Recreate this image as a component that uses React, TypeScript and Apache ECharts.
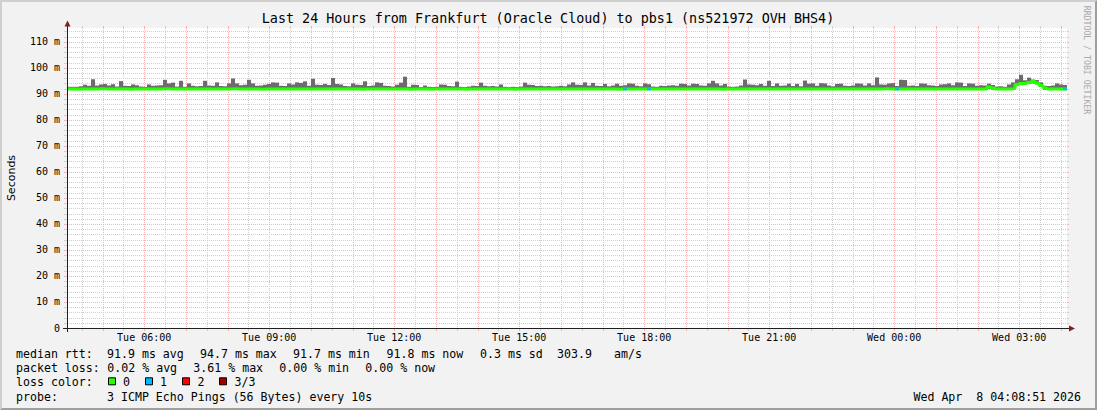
import React, { useEffect, useRef } from "react";
import * as echarts from "echarts";

const MONO = '"DejaVu Sans Mono", monospace';
const SANS = '"DejaVu Sans", sans-serif';

const title = "Last 24 Hours from Frankfurt (Oracle Cloud) to pbs1 (ns521972 OVH BHS4)";
const watermark = "RRDTOOL / TOBI OETIKER";
const yAxisTitle = "Seconds";
const dateStamp = "Wed Apr  8 04:08:51 2026";

// time axis: hours since Tue 00:00, window starts Tue 04:08:51
const startHour = 4 + 8 / 60 + 51 / 3600;
const spanHours = 24;

const xLabelHours = [6, 9, 12, 15, 18, 21, 24, 27];
const xLabels = ["Tue 06:00", "Tue 09:00", "Tue 12:00", "Tue 15:00", "Tue 18:00", "Tue 21:00", "Wed 00:00", "Wed 03:00"];
const gridHours = [5, 6, 7, 8, 9, 10, 11, 12, 13, 14, 15, 16, 17, 18, 19, 20, 21, 22, 23, 24, 25, 26, 27, 28];
const gridHalfHours = [4.5, 5.5, 6.5, 7.5, 8.5, 9.5, 10.5, 11.5, 12.5, 13.5, 14.5, 15.5, 16.5, 17.5, 18.5, 19.5, 20.5, 21.5, 22.5, 23.5, 24.5, 25.5, 26.5, 27.5];
const yMajorTicks = [10, 20, 30, 40, 50, 60, 70, 80, 90, 100, 110];
const yMinorTicks = [2, 4, 6, 8, 12, 14, 16, 18, 22, 24, 26, 28, 32, 34, 36, 38, 42, 44, 46, 48, 52, 54, 56, 58, 62, 64, 66, 68, 72, 74, 76, 78, 82, 84, 86, 88, 92, 94, 96, 98, 102, 104, 106, 108, 112, 114];
const yMax = 115.3;

// smoke (ms): upper edge of the ping spread per step
const smokeTop = [
  92.7, 92.7, 92.7, 92.9, 93.5, 93.1, 95.6, 93.2, 93.6, 93.8,
  93.2, 93.7, 92.8, 94.9, 93.1, 93.0, 93.6, 93.3, 92.8, 92.7,
  93.6, 93.1, 93.2, 93.3, 95.4, 94.0, 94.3, 92.8, 95.0, 92.7,
  94.0, 93.1, 92.9, 93.0, 95.0, 93.2, 93.1, 94.4, 93.0, 92.9,
  94.0, 95.9, 94.0, 93.3, 93.5, 95.4, 94.0, 93.1, 93.2, 93.5,
  93.8, 94.4, 94.3, 93.1, 93.0, 94.0, 93.6, 94.4, 94.2, 94.8,
  93.1, 95.8, 93.5, 93.4, 93.8, 93.4, 96.1, 93.8, 93.6, 93.0,
  92.9, 94.0, 93.5, 93.4, 94.8, 93.0, 93.2, 94.4, 94.2, 93.1,
  93.0, 92.8, 93.5, 94.3, 96.6, 92.7, 93.5, 93.4, 92.6, 93.2,
  92.7, 92.6, 92.7, 93.6, 93.5, 93.0, 92.9, 94.7, 92.7, 92.6,
  92.8, 93.1, 93.0, 94.3, 93.1, 92.9, 93.0, 92.8, 93.6, 92.7,
  92.6, 92.7, 92.6, 92.8, 94.3, 93.5, 93.4, 93.0, 93.1, 92.9,
  93.0, 92.8, 92.9, 93.1, 92.9, 93.6, 94.4, 93.5, 93.4, 94.4,
  93.2, 94.2, 93.1, 93.0, 93.8, 92.9, 93.2, 93.9, 93.1, 93.3,
  94.0, 93.9, 93.1, 92.9, 94.0, 93.7, 92.8, 92.7, 93.1, 93.0,
  93.2, 93.3, 93.1, 93.9, 93.8, 93.2, 93.9, 93.8, 93.2, 93.1,
  94.0, 95.0, 94.0, 93.2, 93.8, 92.8, 92.7, 92.8, 93.2, 95.5,
  93.6, 93.5, 93.3, 93.8, 93.1, 95.0, 93.0, 94.0, 93.1, 93.2,
  93.9, 93.0, 93.8, 92.9, 95.1, 93.9, 94.0, 93.1, 94.1, 94.0,
  93.2, 92.9, 93.8, 93.9, 93.1, 93.0, 93.2, 94.0, 93.9, 93.2,
  94.0, 93.3, 96.3, 93.6, 93.5, 94.0, 94.1, 93.0, 95.4, 95.3,
  93.1, 93.2, 93.0, 94.0, 93.9, 93.3, 93.2, 93.0, 93.6, 93.7,
  94.0, 93.3, 94.4, 94.3, 93.0, 94.0, 93.9, 93.1, 93.3, 93.2,
  93.9, 93.4, 92.8, 92.9, 92.7, 93.6, 94.4, 95.6, 97.3, 95.2,
  96.2, 95.5, 95.3, 94.4, 93.1, 93.0, 93.2, 94.0, 93.6, 93.4,
];

// smoke (ms): lower edge of the ping spread per step
const smokeMin = [
  91.6, 91.6, 91.6, 91.6, 91.6, 91.6, 91.6, 91.6, 91.6, 91.6,
  91.6, 91.6, 91.6, 91.6, 91.6, 91.6, 91.6, 91.6, 91.6, 91.6,
  91.6, 91.6, 91.6, 91.6, 91.6, 91.6, 91.6, 91.6, 91.6, 91.6,
  91.6, 91.6, 91.6, 91.6, 91.6, 91.6, 91.6, 91.6, 91.6, 91.6,
  91.6, 91.6, 91.6, 91.6, 91.6, 91.6, 91.6, 91.6, 91.6, 91.6,
  91.6, 91.6, 91.6, 91.6, 91.6, 91.6, 91.6, 91.6, 91.6, 91.6,
  91.6, 91.6, 91.6, 91.6, 91.6, 91.6, 91.6, 91.6, 91.6, 91.6,
  91.6, 91.6, 91.6, 91.6, 91.6, 91.6, 91.6, 91.6, 91.6, 91.6,
  91.6, 91.6, 91.6, 91.6, 91.6, 91.6, 91.6, 91.6, 91.6, 91.6,
  91.6, 91.6, 91.6, 91.6, 91.6, 91.6, 91.6, 91.6, 91.6, 91.6,
  91.6, 91.6, 91.6, 91.6, 91.6, 91.6, 91.6, 91.6, 91.6, 91.6,
  91.6, 91.6, 91.6, 91.6, 91.6, 91.6, 91.6, 91.6, 91.6, 91.6,
  91.6, 91.6, 91.6, 91.6, 91.6, 91.6, 91.6, 91.6, 91.6, 91.6,
  91.6, 91.6, 91.6, 91.6, 91.6, 91.6, 91.6, 91.6, 91.6, 91.6,
  91.6, 91.6, 91.6, 91.6, 91.6, 91.6, 91.6, 91.6, 91.6, 91.6,
  91.6, 91.6, 91.6, 91.6, 91.6, 91.6, 91.6, 91.6, 91.6, 91.6,
  91.6, 91.6, 91.6, 91.6, 91.6, 91.6, 91.6, 91.6, 91.6, 91.6,
  91.6, 91.6, 91.6, 91.6, 91.6, 91.6, 91.6, 91.6, 91.6, 91.6,
  91.6, 91.6, 91.6, 91.6, 91.6, 91.6, 91.6, 91.6, 91.6, 91.6,
  91.6, 91.6, 91.6, 91.6, 91.6, 91.6, 91.6, 91.6, 91.6, 91.6,
  91.6, 91.6, 91.6, 91.6, 91.6, 91.6, 91.6, 91.6, 91.6, 91.6,
  91.6, 91.6, 91.6, 91.6, 91.6, 91.6, 91.6, 91.6, 91.6, 91.6,
  91.6, 91.6, 91.6, 91.6, 91.6, 91.6, 91.6, 91.6, 91.6, 91.6,
  91.9, 91.6, 91.6, 91.6, 91.6, 91.6, 91.6, 93.0, 93.3, 93.5,
  93.7, 94.0, 93.6, 92.6, 91.6, 91.6, 91.6, 91.6, 91.6, 91.6,
];

// median rtt (ms) per step
const median = [
  91.9, 91.9, 91.8, 91.9, 91.9, 91.9, 91.9, 91.9, 92.0, 91.9,
  91.9, 91.9, 91.9, 91.9, 91.9, 91.8, 91.9, 91.9, 91.9, 91.9,
  91.9, 91.9, 91.9, 91.9, 92.0, 91.9, 91.9, 91.9, 91.9, 91.9,
  91.9, 91.9, 91.9, 91.9, 91.9, 91.9, 91.9, 91.9, 91.9, 91.9,
  91.9, 92.0, 91.9, 91.9, 91.9, 91.9, 91.9, 91.9, 91.8, 91.9,
  91.9, 91.9, 91.9, 91.9, 91.9, 91.9, 91.9, 91.9, 91.9, 91.9,
  91.9, 91.9, 91.9, 91.9, 91.9, 91.9, 91.9, 91.9, 91.9, 91.9,
  91.9, 91.9, 91.9, 91.8, 91.9, 91.9, 91.9, 91.9, 91.9, 91.9,
  91.9, 91.9, 91.9, 91.9, 91.9, 91.8, 91.9, 91.9, 91.9, 91.9,
  91.8, 91.9, 91.9, 91.9, 91.9, 91.9, 91.9, 91.9, 91.9, 91.8,
  91.9, 91.9, 91.9, 91.9, 91.9, 91.9, 91.9, 91.9, 91.9, 91.9,
  91.9, 91.8, 91.9, 91.9, 91.9, 91.9, 91.9, 91.9, 91.9, 91.9,
  91.9, 91.9, 91.9, 91.9, 91.9, 91.9, 91.9, 91.9, 91.9, 91.9,
  91.9, 91.9, 91.9, 91.9, 91.9, 91.9, 91.9, 91.8, 91.9, 91.9,
  91.9, 91.9, 91.9, 91.9, 91.9, 91.9, 91.9, 91.9, 91.9, 91.9,
  91.9, 91.9, 91.9, 91.9, 91.9, 91.9, 91.9, 91.9, 91.9, 91.9,
  91.9, 91.9, 91.9, 91.8, 91.9, 91.9, 91.9, 91.9, 91.9, 91.9,
  91.9, 91.9, 91.9, 91.9, 91.9, 91.9, 91.9, 91.9, 91.9, 91.9,
  91.9, 91.9, 91.9, 91.9, 91.9, 91.9, 91.9, 91.9, 91.9, 91.9,
  91.9, 91.9, 91.9, 91.9, 91.9, 91.9, 91.9, 91.9, 91.9, 91.9,
  91.9, 91.9, 91.9, 91.9, 92.0, 91.9, 91.9, 91.9, 91.9, 91.9,
  91.9, 91.9, 91.9, 91.9, 91.9, 91.9, 91.9, 91.9, 91.9, 91.9,
  91.9, 91.9, 91.9, 91.9, 91.9, 91.9, 91.9, 91.9, 91.9, 91.9,
  92.6, 92.2, 91.9, 91.9, 91.9, 91.9, 92.0, 93.6, 94.0, 94.1,
  94.4, 94.7, 94.2, 93.2, 92.2, 91.9, 91.9, 91.9, 91.9, 91.9,
];

// steps where packets were lost, and how many of the 3 pings
const lossIndex = [139, 145, 207, 249];
const lossCount = [1, 1, 1, 1];
const lossColors = ["#26ff00", "#00b8ff", "#ff0000", "#a10000"];
const lossLabels = ["0", "1", "2", "3/3"];

const rttStats = ["91.9 ms avg", "94.7 ms max", "91.7 ms min", "91.8 ms now", "0.3 ms sd", "303.9", "am/s"];
const lossStats = ["0.02 % avg", "3.61 % max", "0.00 % min", "0.00 % now"];
const probeText = "3 ICMP Echo Pings (56 Bytes) every 10s";

// layout
const rttX = [107, 200, 293, 386.5, 480, 557, 614];
const lossStatX = [107.3, 193.3, 279.3, 365.3];
const swatchX = [108.5, 145.5, 182.5, 219.5];
const swatchLabelX = [123, 160, 197.5, 234.5];
const rowY = [354, 368.3, 381.8, 396.7];

const MINOR = "#cfcfcf";
const MAJOR = "#f5b3b3";

export default function App() {
  const ref = useRef<HTMLDivElement>(null);

  useEffect(() => {
    const chart = echarts.init(ref.current!, undefined, { renderer: "svg" });
    const stepHours = spanHours / smokeTop.length;
    const endHour = startHour + spanHours;

    const smokeData = smokeTop.map((top, i) => [startHour + i * stepHours, smokeMin[i], top]);
    const medianData: number[][] = median.map((m, i) => [startHour + i * stepHours, m]);
    medianData.push([endHour, median[median.length - 1]]);
    const lossData = lossIndex.map((idx, k) => ({
      value: [startHour + (idx + 0.5) * stepHours, median[idx]],
      itemStyle: { color: lossColors[lossCount[k]] },
    }));
    const vGrid = [
      ...gridHalfHours.map((h) => [h, 0, 0]),
      ...gridHours.map((h) => [h, 0, 1]),
    ];
    const hGrid = [
      ...yMinorTicks.map((v) => [startHour, v, 0]),
      ...yMajorTicks.map((v) => [startHour, v, 1]),
    ];

    const labelFor = (v: number) => {
      const k = xLabelHours.findIndex((h) => Math.abs(h - v) < 1e-6);
      return k >= 0 ? xLabels[k] : "";
    };

    const txt = (text: string, x: number, y: number, extra: any = {}) => ({
      type: "text",
      x,
      y,
      z: 20,
      silent: true,
      style: {
        text,
        fill: extra.fill || "#000",
        fontFamily: extra.fontFamily || MONO,
        fontSize: extra.fontSize || 11.6,
        align: extra.align || "left",
        textAlign: extra.align || "left",
        verticalAlign: "middle",
        textVerticalAlign: "middle",
      },
      rotation: extra.rotation || 0,
    });

    const graphics: any[] = [
      // 3D border
      {
        type: "polygon", z: 1, silent: true,
        shape: { points: [[0, 410], [2, 408], [2, 2], [1095, 2], [1097, 0], [0, 0]] },
        style: { fill: "#cfcfcf" },
      },
      {
        type: "polygon", z: 1, silent: true,
        shape: { points: [[2, 408], [1095, 408], [1095, 2], [1097, 0], [1097, 410], [0, 410]] },
        style: { fill: "#9e9e9e" },
      },
      txt(title, 548, 18.5, { fontSize: 13.4, align: "center" }),
      txt(watermark, 1087, 60, { fontSize: 8.2, align: "center", fill: "#a9a9a9", rotation: -Math.PI / 2 }),
      txt(yAxisTitle, 11, 178, { fontSize: 11, fontFamily: SANS, align: "center", rotation: Math.PI / 2 }),
      // axes
      { type: "line", z: 15, silent: true, shape: { x1: 63, y1: 328.5, x2: 1071, y2: 328.5 }, style: { stroke: "#1f1f1f", lineWidth: 1 } },
      { type: "line", z: 15, silent: true, shape: { x1: 67.5, y1: 332, x2: 67.5, y2: 24 }, style: { stroke: "#1f1f1f", lineWidth: 1 } },
      { type: "polygon", z: 16, silent: true, shape: { points: [[1069, 325.5], [1069, 331.5], [1075, 328.5]] }, style: { fill: "#801f1f" } },
      { type: "polygon", z: 16, silent: true, shape: { points: [[64.5, 26.5], [70.5, 26.5], [67.5, 20.5]] }, style: { fill: "#801f1f" } },
      // legend
      txt("median rtt:", 16, rowY[0]),
      ...rttStats.map((s, i) => txt(s, rttX[i], rowY[0])),
      txt("packet loss:", 16, rowY[1]),
      ...lossStats.map((s, i) => txt(s, lossStatX[i], rowY[1])),
      txt("loss color:", 16, rowY[2]),
      ...lossColors.map((c, i) => ({
        type: "rect", z: 20, silent: true,
        shape: { x: swatchX[i], y: rowY[2] - 4, width: 7, height: 7 },
        style: { fill: c, stroke: "#000", lineWidth: 1 },
      })),
      ...lossLabels.map((s, i) => txt(s, swatchLabelX[i], rowY[2])),
      txt("probe:", 16, rowY[3]),
      txt(probeText, 107, rowY[3]),
      txt(dateStamp, 1081, rowY[3], { align: "right" }),
    ];

    const option: any = {
      animation: false,
      backgroundColor: "#f2f2f2",
      grid: { left: 67, top: 28, width: 1000, height: 300, show: true, backgroundColor: "#ffffff", borderWidth: 0 },
      xAxis: {
        type: "value",
        min: startHour,
        max: endHour,
        axisLine: { show: false },
        axisTick: { show: false },
        splitLine: { show: false },
        axisLabel: {
          customValues: xLabelHours,
          formatter: (v: number) => labelFor(v),
          margin: 4,
          fontFamily: MONO,
          fontSize: 10,
          color: "#000",
          hideOverlap: false,
        },
      },
      yAxis: {
        type: "value",
        min: 0,
        max: yMax,
        interval: 10,
        axisLine: { show: false },
        axisTick: { show: false },
        splitLine: { show: false },
        axisLabel: {
          formatter: (v: number) => (v === 0 ? "0" : `${v} m`),
          showMaxLabel: false,
          margin: 7,
          fontFamily: MONO,
          fontSize: 10,
          color: "#000",
        },
      },
      graphic: graphics,
      series: [
        {
          type: "custom",
          name: "vgrid",
          silent: true,
          clip: false,
          z: 1,
          data: vGrid,
          renderItem: (params: any, api: any) => {
            const cs = params.coordSys;
            const x = Math.round(api.coord([api.value(0), 0])[0]) + 0.5;
            const color = api.value(2) === 1 ? MAJOR : MINOR;
            const top = cs.y;
            const bottom = cs.y + cs.height;
            return {
              type: "group",
              children: [
                { type: "line", shape: { x1: x, y1: top, x2: x, y2: bottom }, style: { stroke: color, lineWidth: 1, lineDash: [1, 1] } },
                { type: "line", shape: { x1: x, y1: top - 2, x2: x, y2: top }, style: { stroke: color, lineWidth: 1 } },
                { type: "line", shape: { x1: x, y1: bottom, x2: x, y2: bottom + 3 }, style: { stroke: color, lineWidth: 1 } },
              ],
            };
          },
        },
        {
          type: "custom",
          name: "hgrid",
          silent: true,
          clip: false,
          z: 1,
          data: hGrid,
          renderItem: (params: any, api: any) => {
            const cs = params.coordSys;
            const y = Math.round(api.coord([api.value(0), api.value(1)])[1]) + 0.5;
            const color = api.value(2) === 1 ? MAJOR : MINOR;
            const left = cs.x;
            const right = cs.x + cs.width;
            return {
              type: "group",
              children: [
                { type: "line", shape: { x1: left, y1: y, x2: right, y2: y }, style: { stroke: color, lineWidth: 1, lineDash: [1, 1] } },
                { type: "line", shape: { x1: left - 3, y1: y, x2: left, y2: y }, style: { stroke: color, lineWidth: 1 } },
                { type: "line", shape: { x1: right, y1: y, x2: right + 2, y2: y }, style: { stroke: color, lineWidth: 1 } },
              ],
            };
          },
        },
        {
          type: "custom",
          name: "smoke",
          silent: true,
          z: 3,
          data: smokeData,
          encode: { x: 0, y: [1, 2] },
          renderItem: (params: any, api: any) => {
            const t = api.value(0);
            const a = api.coord([t, api.value(1)]);
            const b = api.coord([t + stepHours, api.value(2)]);
            return {
              type: "rect",
              shape: { x: a[0], y: b[1], width: b[0] - a[0], height: a[1] - b[1] },
              style: { fill: "#6c6c6c" },
            };
          },
        },
        {
          type: "line",
          name: "median rtt",
          silent: true,
          z: 4,
          data: medianData,
          step: "end",
          symbol: "none",
          lineStyle: { color: "#26ff00", width: 3 },
        },
        {
          type: "scatter",
          name: "loss",
          silent: true,
          z: 5,
          data: lossData,
          symbol: "rect",
          symbolSize: [4, 3],
        },
      ],
    };

    chart.setOption(option);
    return () => chart.dispose();
  }, []);

  return <div ref={ref} style={{ position: "absolute", left: 0, top: 0, width: 1097, height: 410 }} />;
}
